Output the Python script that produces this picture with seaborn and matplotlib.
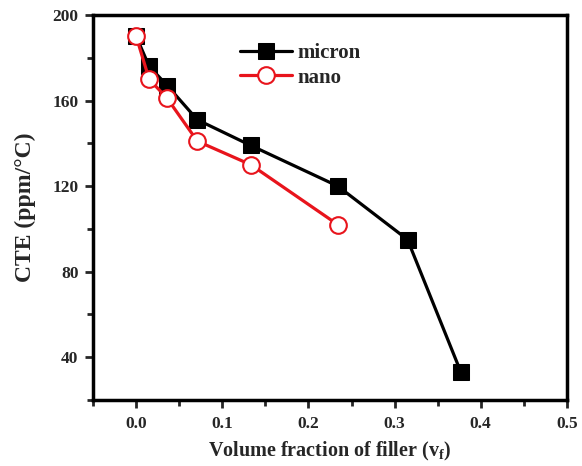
import matplotlib
matplotlib.use("Agg")
import matplotlib.pyplot as plt
import seaborn as sns
import pandas as pd
from matplotlib.ticker import MultipleLocator

micron_x = [0.0, 0.015, 0.036, 0.071, 0.133, 0.234, 0.315, 0.377]
micron_y = [190, 176, 167, 151, 139, 120, 95, 33]
nano_x = [0.0, 0.015, 0.036, 0.071, 0.133, 0.234]
nano_y = [190, 170, 161, 141, 130, 102]

sns.set_theme(style="ticks")
plt.rcParams['font.family'] = ['Liberation Serif', 'DejaVu Serif']
plt.rcParams['font.weight'] = 'bold'
plt.rcParams['axes.labelweight'] = 'bold'
plt.rcParams['mathtext.fontset'] = 'custom'
plt.rcParams['mathtext.rm'] = 'Liberation Serif:bold'
plt.rcParams['mathtext.bf'] = 'Liberation Serif:bold'
plt.rcParams['mathtext.it'] = 'Liberation Serif:bold'

df_m = pd.DataFrame({"x": micron_x, "y": micron_y})
df_n = pd.DataFrame({"x": nano_x, "y": nano_y})

fig = plt.figure(figsize=(5.82, 4.66), dpi=100)
ax = fig.add_axes([0.160, 0.1416, 0.814, 0.8263])

sns.lineplot(data=df_m, x="x", y="y", ax=ax, color="black", lw=2.3,
             marker="s", markersize=11, markeredgecolor="black",
             markerfacecolor="black", label="micron", sort=False)
sns.lineplot(data=df_n, x="x", y="y", ax=ax, color="#e8141c", lw=2.3,
             marker="o", markersize=12, markeredgecolor="#e8141c",
             markerfacecolor="white", markeredgewidth=1.5, label="nano", sort=False)

ax.set_xlim(-0.05, 0.5)
ax.set_ylim(20, 200)
ax.xaxis.set_minor_locator(MultipleLocator(0.05))
ax.yaxis.set_minor_locator(MultipleLocator(20))
ax.set_yticks([40, 80, 120, 160, 200])
ax.set_xticks([0.0, 0.1, 0.2, 0.3, 0.4, 0.5])
ax.set_xticklabels(["0.0", "0.1", "0.2", "0.3", "0.4", "0.5"])
ax.tick_params(which="major", direction="out", length=5.5, width=2, labelsize=12.5)
ax.tick_params(axis="x", which="major", pad=6)
ax.tick_params(axis="y", which="major", pad=5)
ax.tick_params(which="minor", direction="out", length=4, width=2)
for lab in ax.get_xticklabels() + ax.get_yticklabels():
    lab.set_fontweight("bold")
for s in ax.spines.values():
    s.set_linewidth(2.5)
    s.set_visible(True)
    s.set_color("black")

ax.set_xlabel("Volume fraction of filler (v$_\\mathrm{f}$)", fontsize=14.5, fontweight="bold", labelpad=6)
ax.set_ylabel("CTE (ppm/°C)", fontsize=17, fontweight="bold", labelpad=12)

leg = ax.legend(loc="upper left", bbox_to_anchor=(0.27, 0.975), frameon=False,
                prop={"family": "Liberation Serif", "weight": "bold", "size": 15},
                handlelength=2.5, handletextpad=0.25, labelspacing=0.2)

fig.savefig("out.png", dpi=100)
